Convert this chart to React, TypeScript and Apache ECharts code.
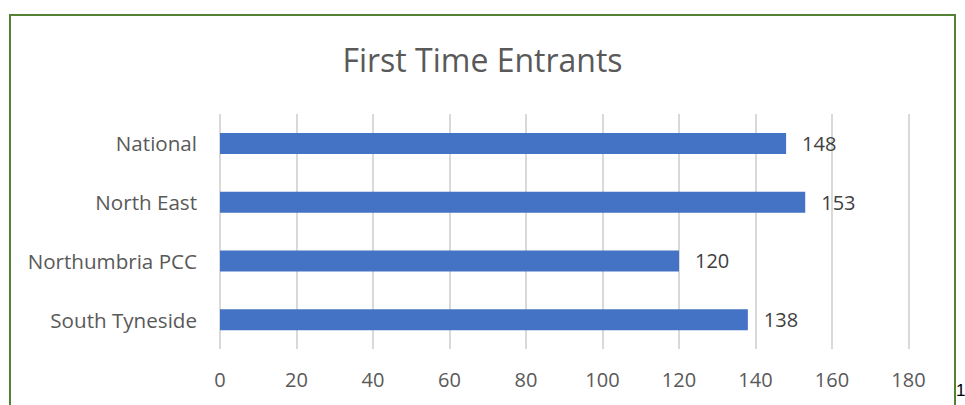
import React, { useEffect, useRef } from "react";
import * as echarts from "echarts";

const categories = ["South Tyneside", "Northumbria PCC", "North East", "National"];
const values = [138, 120, 153, 148];
const xTicks = { min: 0, max: 180, interval: 20 };

const FONT = "'Open Sans', 'Noto Sans', sans-serif";

export default function App() {
  const ref = useRef<HTMLDivElement>(null);

  useEffect(() => {
    if (!ref.current) return;
    const chart = echarts.init(ref.current, undefined, { renderer: "svg" });
    chart.setOption({
      animation: false,
      backgroundColor: "#ffffff",
      title: {
        text: "First Time Entrants",
        left: "center",
        top: 38,
        textStyle: { fontFamily: FONT, fontSize: 32, fontWeight: "normal", color: "#595959" },
      },
      grid: { left: 220, right: 56.5, top: 114, bottom: 56, containLabel: false },
      xAxis: {
        type: "value",
        min: xTicks.min,
        max: xTicks.max,
        interval: xTicks.interval,
        axisLine: { show: false },
        axisTick: { show: false },
        axisLabel: { fontFamily: FONT, fontSize: 20, color: "#595959", margin: 20 },
        splitLine: { lineStyle: { color: "#d9d9d9", width: 2 } },
      },
      yAxis: {
        type: "category",
        data: categories,
        axisLine: { show: false },
        axisTick: { show: false },
        axisLabel: { fontFamily: FONT, fontSize: 20.6, color: "#595959", margin: 23 },
      },
      series: [
        {
          type: "bar",
          data: values,
          barWidth: 21,
          itemStyle: { color: "#4472c4" },
          label: {
            show: true,
            position: "right",
            distance: 16,
            fontFamily: FONT,
            fontSize: 20,
            color: "#404040",
          },
        },
      ],
      graphic: [
        {
          type: "rect",
          shape: { x: 10, y: 15, width: 945, height: 420 },
          style: { fill: "none", stroke: "#548235", lineWidth: 2 },
          silent: true,
        },
        {
          type: "text",
          left: 956,
          top: 382,
          style: { text: "1", fontFamily: "Liberation Sans, sans-serif", fontSize: 17, fill: "#000000" },
        },
      ],
    });
    return () => chart.dispose();
  }, []);

  return (
    <div
      ref={ref}
      style={{ position: "absolute", left: 0, top: 0, width: 965, height: 405 }}
    />
  );
}
